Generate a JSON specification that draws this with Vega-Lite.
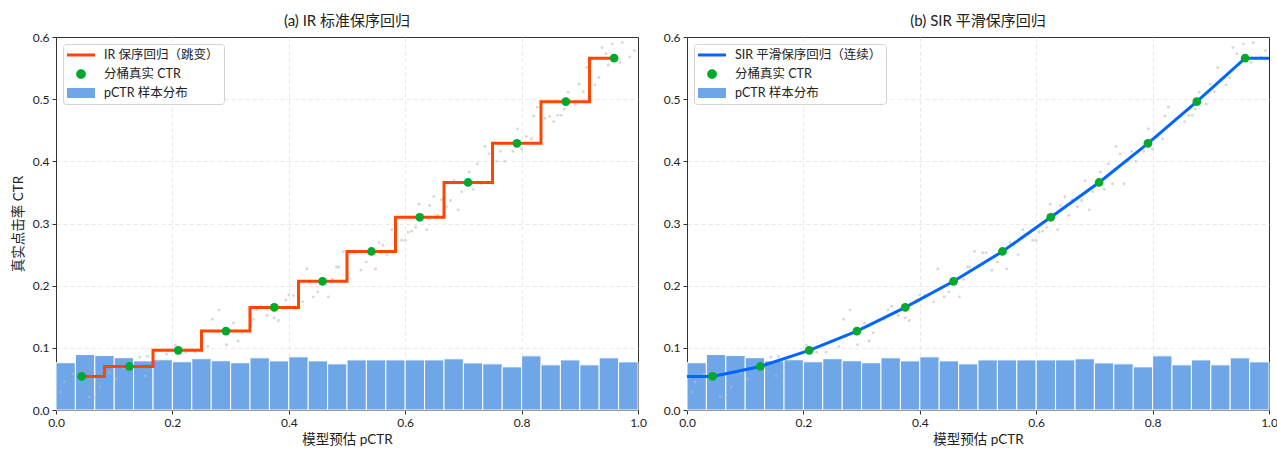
{
  "$schema": "https://vega.github.io/schema/vega-lite/v6.json",
  "padding": {"left": 10, "top": 13, "right": 8, "bottom": 0},
  "background": "white",
  "config": {
    "font": "Lato, 'Noto Sans CJK SC', sans-serif",
    "view": {"stroke": "#333", "strokeWidth": 1},
    "axis": {
      "domainColor": "#333", "tickColor": "#333", "labelColor": "#222", "titleColor": "#222",
      "labelFontSize": 12, "titleFontSize": 13.5, "titleFontWeight": "normal",
      "gridColor": "#e2e2e2", "gridDash": [4, 3], "gridWidth": 0.8,
      "tickSize": 4, "labelPadding": 3, "domainWidth": 1, "labelFlush": false
    },
    "legend": {
      "title": null, "orient": "top-left", "offset": 7,
      "fillColor": "rgba(255,255,255,0.85)", "strokeColor": "#d4d4d4", "cornerRadius": 3, "padding": 4.5,
      "labelFontSize": 12.5, "labelColor": "#222", "labelOffset": 23.5, "rowPadding": 6,
      "symbolSize": 169, "symbolStrokeWidth": 0, "symbolOpacity": 1
    },
    "title": {"fontSize": 15, "fontWeight": "normal", "color": "#222", "offset": 2}
  },
  "datasets": {
    "hist": [
      {"lo": 0.0000, "hi": 0.0333, "h": 0.0760},
      {"lo": 0.0333, "hi": 0.0667, "h": 0.0892},
      {"lo": 0.0667, "hi": 0.1000, "h": 0.0876},
      {"lo": 0.1000, "hi": 0.1333, "h": 0.0841},
      {"lo": 0.1333, "hi": 0.1667, "h": 0.0790},
      {"lo": 0.1667, "hi": 0.2000, "h": 0.0808},
      {"lo": 0.2000, "hi": 0.2333, "h": 0.0776},
      {"lo": 0.2333, "hi": 0.2667, "h": 0.0825},
      {"lo": 0.2667, "hi": 0.3000, "h": 0.0792},
      {"lo": 0.3000, "hi": 0.3333, "h": 0.0760},
      {"lo": 0.3333, "hi": 0.3667, "h": 0.0839},
      {"lo": 0.3667, "hi": 0.4000, "h": 0.0790},
      {"lo": 0.4000, "hi": 0.4333, "h": 0.0855},
      {"lo": 0.4333, "hi": 0.4667, "h": 0.0790},
      {"lo": 0.4667, "hi": 0.5000, "h": 0.0742},
      {"lo": 0.5000, "hi": 0.5333, "h": 0.0806},
      {"lo": 0.5333, "hi": 0.5667, "h": 0.0806},
      {"lo": 0.5667, "hi": 0.6000, "h": 0.0806},
      {"lo": 0.6000, "hi": 0.6333, "h": 0.0806},
      {"lo": 0.6333, "hi": 0.6667, "h": 0.0806},
      {"lo": 0.6667, "hi": 0.7000, "h": 0.0823},
      {"lo": 0.7000, "hi": 0.7333, "h": 0.0758},
      {"lo": 0.7333, "hi": 0.7667, "h": 0.0742},
      {"lo": 0.7667, "hi": 0.8000, "h": 0.0694},
      {"lo": 0.8000, "hi": 0.8333, "h": 0.0871},
      {"lo": 0.8333, "hi": 0.8667, "h": 0.0726},
      {"lo": 0.8667, "hi": 0.9000, "h": 0.0806},
      {"lo": 0.9000, "hi": 0.9333, "h": 0.0726},
      {"lo": 0.9333, "hi": 0.9667, "h": 0.0839},
      {"lo": 0.9667, "hi": 1.0000, "h": 0.0774}
    ],
    "bins": [
      {"p": 0.044, "ctr": 0.054},
      {"p": 0.126, "ctr": 0.070},
      {"p": 0.210, "ctr": 0.096},
      {"p": 0.292, "ctr": 0.127},
      {"p": 0.375, "ctr": 0.165},
      {"p": 0.458, "ctr": 0.207},
      {"p": 0.542, "ctr": 0.255},
      {"p": 0.625, "ctr": 0.310},
      {"p": 0.708, "ctr": 0.366},
      {"p": 0.792, "ctr": 0.429},
      {"p": 0.876, "ctr": 0.496},
      {"p": 0.959, "ctr": 0.566}
    ],
    "ir": [
      {"k": 0, "p": 0.044, "ctr": 0.054},
      {"k": 1, "p": 0.0833, "ctr": 0.054},
      {"k": 2, "p": 0.0833, "ctr": 0.070},
      {"k": 3, "p": 0.1667, "ctr": 0.070},
      {"k": 4, "p": 0.1667, "ctr": 0.096},
      {"k": 5, "p": 0.2500, "ctr": 0.096},
      {"k": 6, "p": 0.2500, "ctr": 0.127},
      {"k": 7, "p": 0.3333, "ctr": 0.127},
      {"k": 8, "p": 0.3333, "ctr": 0.165},
      {"k": 9, "p": 0.4167, "ctr": 0.165},
      {"k": 10, "p": 0.4167, "ctr": 0.207},
      {"k": 11, "p": 0.5000, "ctr": 0.207},
      {"k": 12, "p": 0.5000, "ctr": 0.255},
      {"k": 13, "p": 0.5833, "ctr": 0.255},
      {"k": 14, "p": 0.5833, "ctr": 0.310},
      {"k": 15, "p": 0.6667, "ctr": 0.310},
      {"k": 16, "p": 0.6667, "ctr": 0.366},
      {"k": 17, "p": 0.7500, "ctr": 0.366},
      {"k": 18, "p": 0.7500, "ctr": 0.429},
      {"k": 19, "p": 0.8333, "ctr": 0.429},
      {"k": 20, "p": 0.8333, "ctr": 0.496},
      {"k": 21, "p": 0.9167, "ctr": 0.496},
      {"k": 22, "p": 0.9167, "ctr": 0.566},
      {"k": 23, "p": 0.959, "ctr": 0.566}
    ],
    "sir": [
      {"k": 0, "p": 0.0, "ctr": 0.054},
      {"k": 1, "p": 0.044, "ctr": 0.054},
      {"k": 2, "p": 0.126, "ctr": 0.070},
      {"k": 3, "p": 0.210, "ctr": 0.096},
      {"k": 4, "p": 0.292, "ctr": 0.127},
      {"k": 5, "p": 0.375, "ctr": 0.165},
      {"k": 6, "p": 0.458, "ctr": 0.207},
      {"k": 7, "p": 0.542, "ctr": 0.255},
      {"k": 8, "p": 0.625, "ctr": 0.310},
      {"k": 9, "p": 0.708, "ctr": 0.366},
      {"k": 10, "p": 0.792, "ctr": 0.429},
      {"k": 11, "p": 0.876, "ctr": 0.496},
      {"k": 12, "p": 0.959, "ctr": 0.566},
      {"k": 13, "p": 1.0, "ctr": 0.566}
    ],
    "raw": [
      {"p": 0.008, "ctr": 0.029}, {"p": 0.014, "ctr": 0.045}, {"p": 0.029, "ctr": 0.058},
      {"p": 0.057, "ctr": 0.021}, {"p": 0.066, "ctr": 0.020}, {"p": 0.076, "ctr": 0.037},
      {"p": 0.092, "ctr": 0.060}, {"p": 0.104, "ctr": 0.050}, {"p": 0.118, "ctr": 0.068},
      {"p": 0.144, "ctr": 0.085}, {"p": 0.153, "ctr": 0.055}, {"p": 0.157, "ctr": 0.086},
      {"p": 0.175, "ctr": 0.079}, {"p": 0.190, "ctr": 0.090}, {"p": 0.205, "ctr": 0.104},
      {"p": 0.223, "ctr": 0.093}, {"p": 0.239, "ctr": 0.093}, {"p": 0.261, "ctr": 0.102},
      {"p": 0.269, "ctr": 0.146}, {"p": 0.280, "ctr": 0.161}, {"p": 0.293, "ctr": 0.105},
      {"p": 0.305, "ctr": 0.140}, {"p": 0.313, "ctr": 0.111}, {"p": 0.320, "ctr": 0.124},
      {"p": 0.339, "ctr": 0.146}, {"p": 0.345, "ctr": 0.161}, {"p": 0.352, "ctr": 0.167},
      {"p": 0.363, "ctr": 0.152}, {"p": 0.375, "ctr": 0.148}, {"p": 0.382, "ctr": 0.144},
      {"p": 0.395, "ctr": 0.177}, {"p": 0.400, "ctr": 0.185}, {"p": 0.408, "ctr": 0.184},
      {"p": 0.424, "ctr": 0.174}, {"p": 0.431, "ctr": 0.227}, {"p": 0.442, "ctr": 0.182},
      {"p": 0.450, "ctr": 0.190}, {"p": 0.468, "ctr": 0.182}, {"p": 0.475, "ctr": 0.210},
      {"p": 0.482, "ctr": 0.230}, {"p": 0.486, "ctr": 0.230}, {"p": 0.494, "ctr": 0.255},
      {"p": 0.508, "ctr": 0.253}, {"p": 0.514, "ctr": 0.253}, {"p": 0.524, "ctr": 0.225},
      {"p": 0.533, "ctr": 0.238}, {"p": 0.549, "ctr": 0.227}, {"p": 0.555, "ctr": 0.269},
      {"p": 0.562, "ctr": 0.265}, {"p": 0.569, "ctr": 0.250}, {"p": 0.577, "ctr": 0.290},
      {"p": 0.594, "ctr": 0.273}, {"p": 0.600, "ctr": 0.273}, {"p": 0.605, "ctr": 0.286},
      {"p": 0.611, "ctr": 0.288}, {"p": 0.618, "ctr": 0.294}, {"p": 0.624, "ctr": 0.331},
      {"p": 0.637, "ctr": 0.290}, {"p": 0.642, "ctr": 0.329}, {"p": 0.649, "ctr": 0.343},
      {"p": 0.656, "ctr": 0.313}, {"p": 0.662, "ctr": 0.338}, {"p": 0.671, "ctr": 0.327},
      {"p": 0.678, "ctr": 0.337}, {"p": 0.684, "ctr": 0.369}, {"p": 0.691, "ctr": 0.322},
      {"p": 0.697, "ctr": 0.351}, {"p": 0.710, "ctr": 0.383}, {"p": 0.717, "ctr": 0.355},
      {"p": 0.724, "ctr": 0.396}, {"p": 0.731, "ctr": 0.364}, {"p": 0.737, "ctr": 0.424},
      {"p": 0.744, "ctr": 0.412}, {"p": 0.751, "ctr": 0.364}, {"p": 0.757, "ctr": 0.400},
      {"p": 0.764, "ctr": 0.416}, {"p": 0.771, "ctr": 0.400}, {"p": 0.785, "ctr": 0.416},
      {"p": 0.793, "ctr": 0.452}, {"p": 0.800, "ctr": 0.420}, {"p": 0.808, "ctr": 0.440},
      {"p": 0.817, "ctr": 0.436}, {"p": 0.821, "ctr": 0.473}, {"p": 0.827, "ctr": 0.487},
      {"p": 0.840, "ctr": 0.469}, {"p": 0.848, "ctr": 0.472}, {"p": 0.855, "ctr": 0.464},
      {"p": 0.862, "ctr": 0.474}, {"p": 0.868, "ctr": 0.474}, {"p": 0.873, "ctr": 0.484},
      {"p": 0.880, "ctr": 0.511}, {"p": 0.892, "ctr": 0.492}, {"p": 0.899, "ctr": 0.524},
      {"p": 0.906, "ctr": 0.512}, {"p": 0.912, "ctr": 0.551}, {"p": 0.926, "ctr": 0.523},
      {"p": 0.933, "ctr": 0.535}, {"p": 0.938, "ctr": 0.583}, {"p": 0.945, "ctr": 0.573},
      {"p": 0.949, "ctr": 0.555}, {"p": 0.956, "ctr": 0.589}, {"p": 0.969, "ctr": 0.559},
      {"p": 0.973, "ctr": 0.591}, {"p": 0.986, "ctr": 0.568}, {"p": 0.994, "ctr": 0.578}
    ]
  },
  "spacing": 49,
  "bounds": "flush",
  "resolve": {"scale": {"color": "independent"}, "legend": {"color": "independent"}},
  "hconcat": [
    {
      "width": 582,
      "height": 373,
      "title": "(a) IR 标准保序回归",
      "layer": [
        {
          "data": {"name": "hist"},
          "mark": {"type": "rect", "stroke": "white", "strokeWidth": 1},
          "encoding": {
            "x": {"field": "lo", "type": "quantitative", "scale": {"domain": [0, 1]},
                  "axis": {"title": "模型预估 pCTR", "values": [0, 0.2, 0.4, 0.6, 0.8, 1.0], "format": ".1f", "titlePadding": 4,
                           "gridOpacity": {"condition": {"test": "datum.value > 0.99", "value": 0}, "value": 1}}},
            "x2": {"field": "hi"},
            "y": {"field": "h", "type": "quantitative", "scale": {"domain": [0, 0.6]},
                  "axis": {"title": "真实点击率 CTR", "values": [0, 0.1, 0.2, 0.3, 0.4, 0.5, 0.6], "format": ".1f", "titlePadding": 7,
                           "gridOpacity": {"condition": {"test": "datum.value > 0.59", "value": 0}, "value": 1}}},
            "color": {
              "datum": "pCTR 样本分布", "type": "nominal",
              "scale": {"domain": ["IR 保序回归（跳变）", "分桶真实 CTR", "pCTR 样本分布"], "range": ["#FF4500", "#05A82E", "#6EA6E8"]},
              "legend": {"symbolType": {"expr": "datum.index === 0 ? 'M-1.077,-0.23H3.23V0.23H-1.077Z' : datum.index === 1 ? 'M0.33,0A0.75,0.75,0,1,1,1.83,0A0.75,0.75,0,1,1,0.33,0Z' : 'M-1.077,-0.77H3.23V0.77H-1.077Z'"}}
            }
          }
        },
        {
          "data": {"name": "raw"},
          "mark": {"type": "point", "filled": true, "color": "#bdbdbd", "opacity": 0.6, "size": 8},
          "encoding": {
            "x": {"field": "p", "type": "quantitative"},
            "y": {"field": "ctr", "type": "quantitative"}
          }
        },
        {
          "data": {"name": "ir"},
          "mark": {"type": "line", "strokeWidth": 3, "strokeJoin": "miter"},
          "encoding": {
            "x": {"field": "p", "type": "quantitative"},
            "y": {"field": "ctr", "type": "quantitative"},
            "order": {"field": "k", "type": "quantitative"},
            "color": {"datum": "IR 保序回归（跳变）", "type": "nominal",
              "legend": {"symbolType": {"expr": "datum.index === 0 ? 'M-1.077,-0.23H3.23V0.23H-1.077Z' : datum.index === 1 ? 'M0.33,0A0.75,0.75,0,1,1,1.83,0A0.75,0.75,0,1,1,0.33,0Z' : 'M-1.077,-0.77H3.23V0.77H-1.077Z'"}}}
          }
        },
        {
          "data": {"name": "bins"},
          "mark": {"type": "point", "filled": true, "opacity": 1, "size": 76},
          "encoding": {
            "x": {"field": "p", "type": "quantitative"},
            "y": {"field": "ctr", "type": "quantitative"},
            "color": {"datum": "分桶真实 CTR", "type": "nominal",
              "legend": {"symbolType": {"expr": "datum.index === 0 ? 'M-1.077,-0.23H3.23V0.23H-1.077Z' : datum.index === 1 ? 'M0.33,0A0.75,0.75,0,1,1,1.83,0A0.75,0.75,0,1,1,0.33,0Z' : 'M-1.077,-0.77H3.23V0.77H-1.077Z'"}}}
          }
        }
      ]
    },
    {
      "width": 582,
      "height": 373,
      "title": "(b) SIR 平滑保序回归",
      "layer": [
        {
          "data": {"name": "hist"},
          "mark": {"type": "rect", "stroke": "white", "strokeWidth": 1},
          "encoding": {
            "x": {"field": "lo", "type": "quantitative", "scale": {"domain": [0, 1]},
                  "axis": {"title": "模型预估 pCTR", "values": [0, 0.2, 0.4, 0.6, 0.8, 1.0], "format": ".1f", "titlePadding": 4,
                           "gridOpacity": {"condition": {"test": "datum.value > 0.99", "value": 0}, "value": 1}}},
            "x2": {"field": "hi"},
            "y": {"field": "h", "type": "quantitative", "scale": {"domain": [0, 0.6]},
                  "axis": {"title": null, "values": [0, 0.1, 0.2, 0.3, 0.4, 0.5, 0.6], "format": ".1f",
                           "gridOpacity": {"condition": {"test": "datum.value > 0.59", "value": 0}, "value": 1}}},
            "color": {
              "datum": "pCTR 样本分布", "type": "nominal",
              "scale": {"domain": ["SIR 平滑保序回归（连续）", "分桶真实 CTR", "pCTR 样本分布"], "range": ["#0066FF", "#05A82E", "#6EA6E8"]},
              "legend": {"symbolType": {"expr": "datum.index === 0 ? 'M-1.077,-0.23H3.23V0.23H-1.077Z' : datum.index === 1 ? 'M0.33,0A0.75,0.75,0,1,1,1.83,0A0.75,0.75,0,1,1,0.33,0Z' : 'M-1.077,-0.77H3.23V0.77H-1.077Z'"}}
            }
          }
        },
        {
          "data": {"name": "raw"},
          "mark": {"type": "point", "filled": true, "color": "#bdbdbd", "opacity": 0.6, "size": 8},
          "encoding": {
            "x": {"field": "p", "type": "quantitative"},
            "y": {"field": "ctr", "type": "quantitative"}
          }
        },
        {
          "data": {"name": "sir"},
          "mark": {"type": "line", "strokeWidth": 3},
          "encoding": {
            "x": {"field": "p", "type": "quantitative"},
            "y": {"field": "ctr", "type": "quantitative"},
            "order": {"field": "k", "type": "quantitative"},
            "color": {"datum": "SIR 平滑保序回归（连续）", "type": "nominal",
              "legend": {"symbolType": {"expr": "datum.index === 0 ? 'M-1.077,-0.23H3.23V0.23H-1.077Z' : datum.index === 1 ? 'M0.33,0A0.75,0.75,0,1,1,1.83,0A0.75,0.75,0,1,1,0.33,0Z' : 'M-1.077,-0.77H3.23V0.77H-1.077Z'"}}}
          }
        },
        {
          "data": {"name": "bins"},
          "mark": {"type": "point", "filled": true, "opacity": 1, "size": 76},
          "encoding": {
            "x": {"field": "p", "type": "quantitative"},
            "y": {"field": "ctr", "type": "quantitative"},
            "color": {"datum": "分桶真实 CTR", "type": "nominal",
              "legend": {"symbolType": {"expr": "datum.index === 0 ? 'M-1.077,-0.23H3.23V0.23H-1.077Z' : datum.index === 1 ? 'M0.33,0A0.75,0.75,0,1,1,1.83,0A0.75,0.75,0,1,1,0.33,0Z' : 'M-1.077,-0.77H3.23V0.77H-1.077Z'"}}}
          }
        }
      ]
    }
  ]
}
